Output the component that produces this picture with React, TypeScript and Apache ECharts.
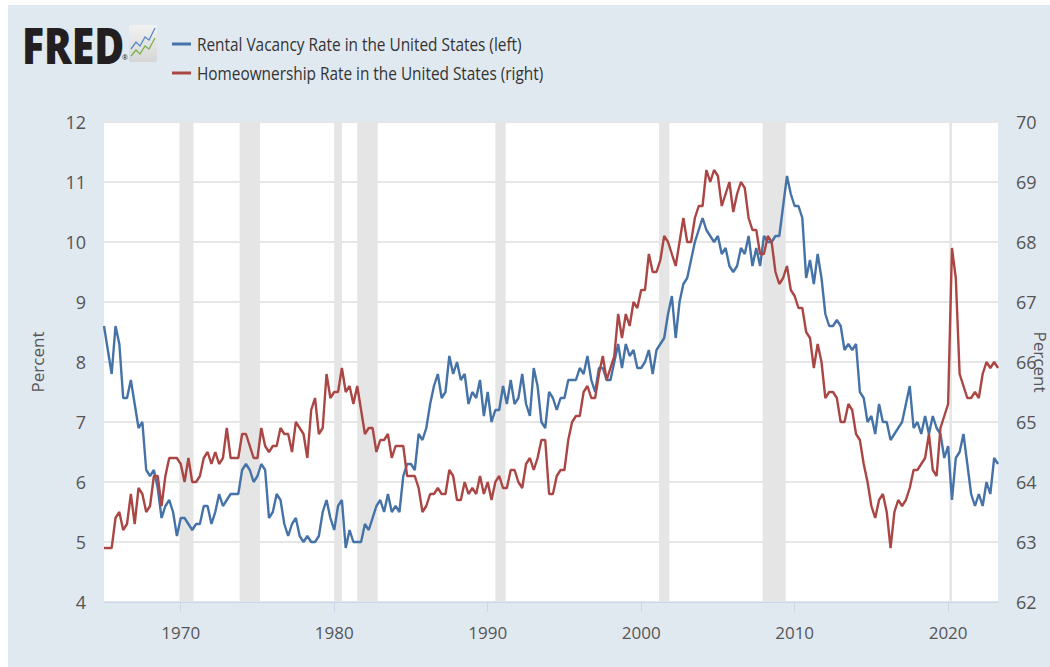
import React, { useEffect, useRef } from "react";
import * as echarts from "echarts";

// Quarterly observations, first one = 1965 Q1
const START_YEAR = 1965;

const rentalVacancy = [
  8.6, 8.2, 7.8, 8.6, 8.3, 7.4, 7.4, 7.7, 7.3, 6.9,
  7.0, 6.2, 6.1, 6.2, 5.9, 5.4, 5.6, 5.7, 5.5, 5.1,
  5.4, 5.4, 5.3, 5.2, 5.3, 5.3, 5.6, 5.6, 5.3, 5.5,
  5.8, 5.6, 5.7, 5.8, 5.8, 5.8, 6.2, 6.3, 6.2, 6.0,
  6.1, 6.3, 6.2, 5.4, 5.5, 5.8, 5.7, 5.3, 5.1, 5.3,
  5.4, 5.1, 5.0, 5.1, 5.0, 5.0, 5.1, 5.5, 5.7, 5.4,
  5.2, 5.6, 5.7, 4.9, 5.2, 5.0, 5.0, 5.0, 5.3, 5.2,
  5.4, 5.6, 5.7, 5.5, 5.8, 5.5, 5.6, 5.5, 6.1, 6.3,
  6.3, 6.2, 6.8, 6.7, 6.9, 7.3, 7.6, 7.8, 7.4, 7.5,
  8.1, 7.8, 8.0, 7.7, 7.8, 7.3, 7.5, 7.4, 7.7, 7.1,
  7.5, 7.0, 7.2, 7.2, 7.6, 7.3, 7.7, 7.3, 7.4, 7.8,
  7.3, 7.1, 7.9, 7.6, 7.0, 6.9, 7.5, 7.4, 7.2, 7.4,
  7.4, 7.7, 7.7, 7.7, 7.9, 7.8, 8.1, 7.7, 7.5, 7.9,
  7.9, 7.7, 7.7, 8.0, 8.3, 7.9, 8.3, 8.1, 8.2, 7.9,
  7.9, 8.0, 8.2, 7.8, 8.2, 8.3, 8.4, 8.8, 9.1, 8.4,
  9.0, 9.3, 9.4, 9.7, 10.0, 10.2, 10.4, 10.2, 10.1, 10.0,
  10.1, 9.8, 9.9, 9.6, 9.5, 9.6, 9.9, 9.8, 10.1, 9.6,
  9.9, 9.6, 10.1, 10.0, 10.0, 10.1, 10.1, 10.6, 11.1, 10.8,
  10.6, 10.6, 10.4, 9.4, 9.7, 9.3, 9.8, 9.4, 8.8, 8.6,
  8.6, 8.7, 8.6, 8.2, 8.3, 8.2, 8.3, 7.5, 7.4, 7.0,
  7.1, 6.8, 7.3, 7.0, 7.0, 6.7, 6.8, 6.9, 7.0, 7.3,
  7.6, 6.9, 7.0, 6.8, 7.1, 6.8, 7.1, 6.9, 6.8, 6.4,
  6.6, 5.7, 6.4, 6.5, 6.8, 6.3, 5.8, 5.6, 5.8, 5.6,
  6.0, 5.8, 6.4, 6.3,
];

const homeownership = [
  62.9, 62.9, 62.9, 63.4, 63.5, 63.2, 63.3, 63.8, 63.3, 63.9,
  63.8, 63.5, 63.6, 64.1, 64.1, 63.6, 64.1, 64.4, 64.4, 64.4,
  64.3, 64.0, 64.4, 64.0, 64.0, 64.1, 64.4, 64.5, 64.3, 64.5,
  64.3, 64.4, 64.9, 64.4, 64.4, 64.4, 64.8, 64.8, 64.6, 64.4,
  64.4, 64.9, 64.6, 64.5, 64.6, 64.6, 64.9, 64.8, 64.8, 64.5,
  65.0, 64.9, 64.8, 64.4, 65.2, 65.4, 64.8, 64.9, 65.8, 65.4,
  65.5, 65.5, 65.9, 65.5, 65.6, 65.3, 65.6, 65.2, 64.8, 64.9,
  64.9, 64.5, 64.7, 64.7, 64.8, 64.4, 64.6, 64.6, 64.6, 64.1,
  64.1, 64.1, 63.9, 63.5, 63.6, 63.8, 63.8, 63.9, 63.8, 63.8,
  64.2, 64.1, 63.7, 63.7, 64.0, 63.8, 63.9, 63.8, 64.1, 63.8,
  64.0, 63.7, 64.0, 64.1, 63.9, 63.9, 64.2, 64.2, 64.0, 63.9,
  64.3, 64.4, 64.2, 64.4, 64.7, 64.7, 63.8, 63.8, 64.1, 64.2,
  64.2, 64.7, 65.0, 65.1, 65.1, 65.5, 65.6, 65.4, 65.4, 65.8,
  66.1, 65.7, 65.9, 66.1, 66.8, 66.4, 66.8, 66.6, 67.0, 66.9,
  67.2, 67.2, 67.8, 67.5, 67.5, 67.7, 68.1, 68.0, 67.8, 67.6,
  68.0, 68.4, 68.0, 68.0, 68.4, 68.6, 68.6, 69.2, 69.0, 69.2,
  69.1, 68.6, 68.8, 69.0, 68.5, 68.8, 69.0, 68.9, 68.4, 68.2,
  68.2, 67.8, 67.8, 68.1, 68.0, 67.5, 67.3, 67.4, 67.6, 67.2,
  67.1, 66.9, 66.9, 66.5, 66.4, 65.9, 66.3, 66.0, 65.4, 65.5,
  65.5, 65.4, 65.0, 65.0, 65.3, 65.2, 64.8, 64.7, 64.3, 64.0,
  63.6, 63.4, 63.7, 63.8, 63.5, 62.9, 63.5, 63.7, 63.6, 63.7,
  63.9, 64.2, 64.2, 64.3, 64.4, 64.8, 64.2, 64.1, 64.9, 65.1,
  65.3, 67.9, 67.4, 65.8, 65.6, 65.4, 65.4, 65.5, 65.4, 65.8,
  66.0, 65.9, 66.0, 65.9,
];

const xTickYears = [1970, 1980, 1990, 2000, 2010, 2020];

// NBER recessions (start, end) as decimal years
const recessionStarts = [1969.917, 1973.833, 1980.0, 1981.5, 1990.5, 2001.167, 2007.917, 2020.083];
const recessionEnds = [1970.833, 1975.167, 1980.5, 1982.833, 1991.167, 2001.833, 2009.417, 2020.25];

const seriesNames = [
  "Rental Vacancy Rate in the United States (left)",
  "Homeownership Rate in the United States (right)",
];
const seriesColors = ["#4572a7", "#aa4643"];

const FONT = "'Open Sans', sans-serif";

export default function App() {
  const ref = useRef<HTMLDivElement>(null);

  useEffect(() => {
    if (!ref.current) return;
    const chart = echarts.init(ref.current, null, { renderer: "svg" });

    const toPairs = (arr: number[]) => arr.map((v, i) => [START_YEAR + i / 4, v]);

    const legendItems: any[] = [];
    seriesNames.forEach((name, i) => {
      const cy = 39 + i * 29;
      legendItems.push({
        type: "rect",
        shape: { x: 164, y: cy - 1.5, width: 19, height: 3 },
        style: { fill: seriesColors[i] },
      });
      legendItems.push({
        type: "text",
        x: 189,
        y: cy,
        scaleX: 0.81,
        style: {
          text: name,
          fontSize: 19,
          fontFamily: FONT,
          fill: "#333333",
          verticalAlign: "middle",
        },
      });
    });

    const option: any = {
      animation: false,
      backgroundColor: "#e1e9f0",
      grid: {
        left: 96,
        right: 52,
        top: 117,
        bottom: 65,
        show: true,
        backgroundColor: "#ffffff",
        borderWidth: 0,
        outerBoundsMode: "none",
        containLabel: false,
      },
      legend: { show: false, data: seriesNames },
      xAxis: {
        type: "value",
        min: START_YEAR,
        max: START_YEAR + (rentalVacancy.length - 1) / 4,
        splitLine: { show: false },
        axisLine: { show: true, lineStyle: { color: "#ccd6eb", width: 1 } },
        axisTick: {
          show: true,
          length: 10,
          lineStyle: { color: "#ccd6eb" },
          customValues: xTickYears,
        },
        axisLabel: {
          customValues: xTickYears,
          formatter: (v: number) => String(Math.round(v)),
          color: "#555555",
          fontSize: 17,
          fontFamily: FONT,
          margin: 22,
        },
      },
      yAxis: [
        {
          type: "value",
          min: 4,
          max: 12,
          interval: 1,
          name: "Percent",
          nameLocation: "middle",
          nameGap: 58,
          nameTextStyle: { color: "#555555", fontSize: 17, fontFamily: FONT },
          axisLine: { show: false },
          axisTick: { show: false },
          axisLabel: { color: "#555555", fontSize: 18, fontFamily: FONT, margin: 18 },
          splitLine: { show: true, lineStyle: { color: "#e6e6e6", width: 2 } },
        },
        {
          type: "value",
          min: 62,
          max: 70,
          interval: 1,
          position: "right",
          axisLine: { show: false },
          axisTick: { show: false },
          axisLabel: { color: "#555555", fontSize: 18, fontFamily: FONT, margin: 18 },
          splitLine: { show: false },
        },
      ],
      series: [
        {
          name: seriesNames[0],
          type: "line",
          yAxisIndex: 0,
          data: toPairs(rentalVacancy),
          showSymbol: false,
          color: seriesColors[0],
          lineStyle: { color: seriesColors[0], width: 2.4 },
          z: 3,
          markArea: {
            silent: true,
            itemStyle: { color: "#e5e5e5" },
            data: recessionStarts.map((s, i) => [{ xAxis: s }, { xAxis: recessionEnds[i] }]),
          },
        },
        {
          name: seriesNames[1],
          type: "line",
          yAxisIndex: 1,
          data: toPairs(homeownership),
          showSymbol: false,
          color: seriesColors[1],
          lineStyle: { color: seriesColors[1], width: 2.4 },
          z: 4,
        },
      ],
      graphic: [
        {
          type: "text",
          x: 14,
          y: 14,
          scaleX: 0.82,
          style: {
            text: "FRED",
            fontSize: 50,
            fontWeight: 800,
            fontFamily: FONT,
            fill: "#231f20",
          },
        },
        {
          type: "text",
          x: 114,
          y: 49,
          style: { text: "®", fontSize: 7, fill: "#231f20", fontFamily: FONT },
        },
        {
          type: "group",
          x: 121,
          y: 20,
          children: [
            {
              type: "rect",
              shape: { x: 0, y: 0, width: 28, height: 37, r: 2 },
              style: {
                fill: new echarts.graphic.LinearGradient(0, 0, 0, 1, [
                  { offset: 0, color: "#f2f2f2" },
                  { offset: 1, color: "#d6d6d6" },
                ]),
              },
            },
            {
              type: "polyline",
              shape: { points: [[2, 24], [7, 17], [11, 21], [16, 12], [20, 15], [26, 3]] },
              style: { stroke: "#5a8ac6", lineWidth: 1.3, fill: "none" },
            },
            {
              type: "polyline",
              shape: { points: [[2, 31], [7, 25], [11, 29], [16, 21], [20, 24], [26, 13]] },
              style: { stroke: "#7bb04a", lineWidth: 1.3, fill: "none" },
            },
          ],
        },
        {
          type: "text",
          x: 1032,
          y: 357,
          rotation: -Math.PI / 2,
          style: {
            text: "Percent",
            fontSize: 17,
            fontFamily: FONT,
            fill: "#555555",
            align: "center",
            verticalAlign: "middle",
          },
        },
        ...legendItems,
      ],
    };

    chart.setOption(option);
    return () => chart.dispose();
  }, []);

  return (
    <div
      ref={ref}
      style={{ position: "fixed", left: 8, top: 5, width: 1042, height: 662 }}
    />
  );
}
